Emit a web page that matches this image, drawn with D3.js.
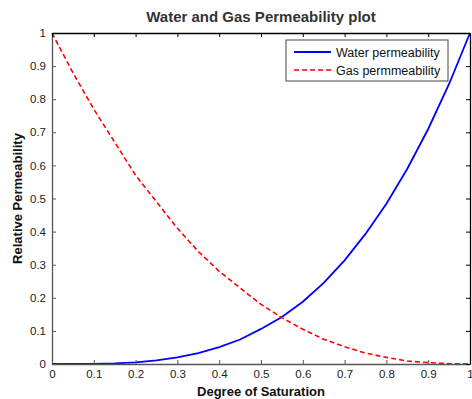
<!DOCTYPE html>
<html>
<head>
<meta charset="utf-8">
<script src="https://cdn.jsdelivr.net/npm/d3@7"></script>
<style>
  body { margin: 0; background: #fff; }
  text { font-family: "Liberation Sans", Arial, sans-serif; }
</style>
</head>
<body>
<div id="chart"></div>
<script>
// values
const saturation = [0, 0.05, 0.1, 0.15, 0.2, 0.25, 0.3, 0.35, 0.4, 0.45, 0.5,
                    0.55, 0.6, 0.65, 0.7, 0.75, 0.8, 0.85, 0.9, 0.95, 1];
const waterPerm = [0, 0.0001, 0.0006, 0.002, 0.005, 0.011, 0.02, 0.033, 0.051, 0.074, 0.106,
                   0.142, 0.188, 0.245, 0.313, 0.393, 0.484, 0.59, 0.71, 0.846, 1];
const gasPerm = [1, 0.88, 0.77, 0.67, 0.57, 0.49, 0.41, 0.34, 0.28, 0.23, 0.18,
                 0.14, 0.105, 0.075, 0.052, 0.033, 0.02, 0.009, 0.004, 0.001, 0];
const xTicks = [0, 0.1, 0.2, 0.3, 0.4, 0.5, 0.6, 0.7, 0.8, 0.9, 1];
const yTicks = [0, 0.1, 0.2, 0.3, 0.4, 0.5, 0.6, 0.7, 0.8, 0.9, 1];
const seriesNames = ['Water permeability', 'Gas permmeability'];

const width = 472, height = 399;
const margin = { top: 33, right: 2, bottom: 35, left: 52 };
const plotW = width - margin.left - margin.right;
const plotH = height - margin.top - margin.bottom;

const svg = d3.select('#chart').append('svg')
    .attr('width', width)
    .attr('height', height);

const x = d3.scaleLinear().domain([0, 1]).range([0, plotW]);
const y = d3.scaleLinear().domain([0, 1]).range([plotH, 0]);

const g = svg.append('g')
    .attr('transform', `translate(${margin.left},${margin.top})`);

// Curves
const line = d3.line()
    .x((d, i) => x(saturation[i]))
    .y(d => y(d));

g.append('path')
    .datum(waterPerm)
    .attr('d', line)
    .attr('fill', 'none')
    .attr('stroke', '#0000ff')
    .attr('stroke-width', 1.8);

g.append('path')
    .datum(gasPerm)
    .attr('d', line)
    .attr('fill', 'none')
    .attr('stroke', '#ff0000')
    .attr('stroke-width', 1.6)
    .attr('stroke-dasharray', '5,3');

// Axes, MATLAB style: ticks inside, box all around
const tickLen = 4;
const styleAxis = (sel, color) => {
    sel.select('.domain').attr('stroke', color).attr('stroke-width', 1.3);
    sel.selectAll('.tick line').attr('stroke', color);
    sel.selectAll('.tick text')
        .attr('fill', '#222')
        .style('font-size', '11.5px');
};

const xAxis = g.append('g')
    .attr('transform', `translate(0,${plotH})`)
    .call(d3.axisBottom(x).tickValues(xTicks).tickFormat(d3.format('~g'))
        .tickSizeInner(-tickLen).tickSizeOuter(0).tickPadding(6));
styleAxis(xAxis, '#555');

const yAxis = g.append('g')
    .call(d3.axisLeft(y).tickValues(yTicks).tickFormat(d3.format('~g'))
        .tickSizeInner(-tickLen).tickSizeOuter(0).tickPadding(6));
styleAxis(yAxis, '#555');

const xTop = g.append('g')
    .call(d3.axisTop(x).tickValues(xTicks).tickFormat('')
        .tickSizeInner(-tickLen).tickSizeOuter(0));
styleAxis(xTop, '#000');

const yRight = g.append('g')
    .attr('transform', `translate(${plotW},0)`)
    .call(d3.axisRight(y).tickValues(yTicks).tickFormat('')
        .tickSizeInner(-tickLen).tickSizeOuter(0));
styleAxis(yRight, '#000');

// Title and axis labels
svg.append('text')
    .attr('x', margin.left + plotW / 2)
    .attr('y', 22)
    .attr('text-anchor', 'middle')
    .style('font-size', '15px')
    .style('font-weight', 'bold')
    .attr('fill', '#333')
    .text('Water and Gas Permeability plot');

svg.append('text')
    .attr('x', margin.left + plotW / 2)
    .attr('y', 396)
    .attr('text-anchor', 'middle')
    .style('font-size', '13px')
    .style('font-weight', 'bold')
    .attr('fill', '#111')
    .text('Degree of Saturation');

svg.append('text')
    .attr('transform', `translate(22,${margin.top + plotH / 2}) rotate(-90)`)
    .attr('text-anchor', 'middle')
    .style('font-size', '13px')
    .style('font-weight', 'bold')
    .attr('fill', '#111')
    .text('Relative Permeability');

// Legend
const legend = svg.append('g').attr('transform', 'translate(286,40)');
legend.append('rect')
    .attr('width', 162)
    .attr('height', 41)
    .attr('fill', '#fff')
    .attr('stroke', '#444')
    .attr('stroke-width', 1);

const legendStyles = [
    { color: '#0000ff', dash: null, w: 1.8 },
    { color: '#ff0000', dash: '5,3', w: 1.6 }
];

seriesNames.forEach((name, i) => {
    const row = legend.append('g').attr('transform', `translate(0,${12 + i * 18})`);
    row.append('line')
        .attr('x1', 8).attr('x2', 45)
        .attr('stroke', legendStyles[i].color)
        .attr('stroke-width', legendStyles[i].w)
        .attr('stroke-dasharray', legendStyles[i].dash);
    row.append('text')
        .attr('x', 50)
        .attr('y', 4.5)
        .style('font-size', '12.5px')
        .attr('fill', '#111')
        .text(name);
});
</script>
</body>
</html>
